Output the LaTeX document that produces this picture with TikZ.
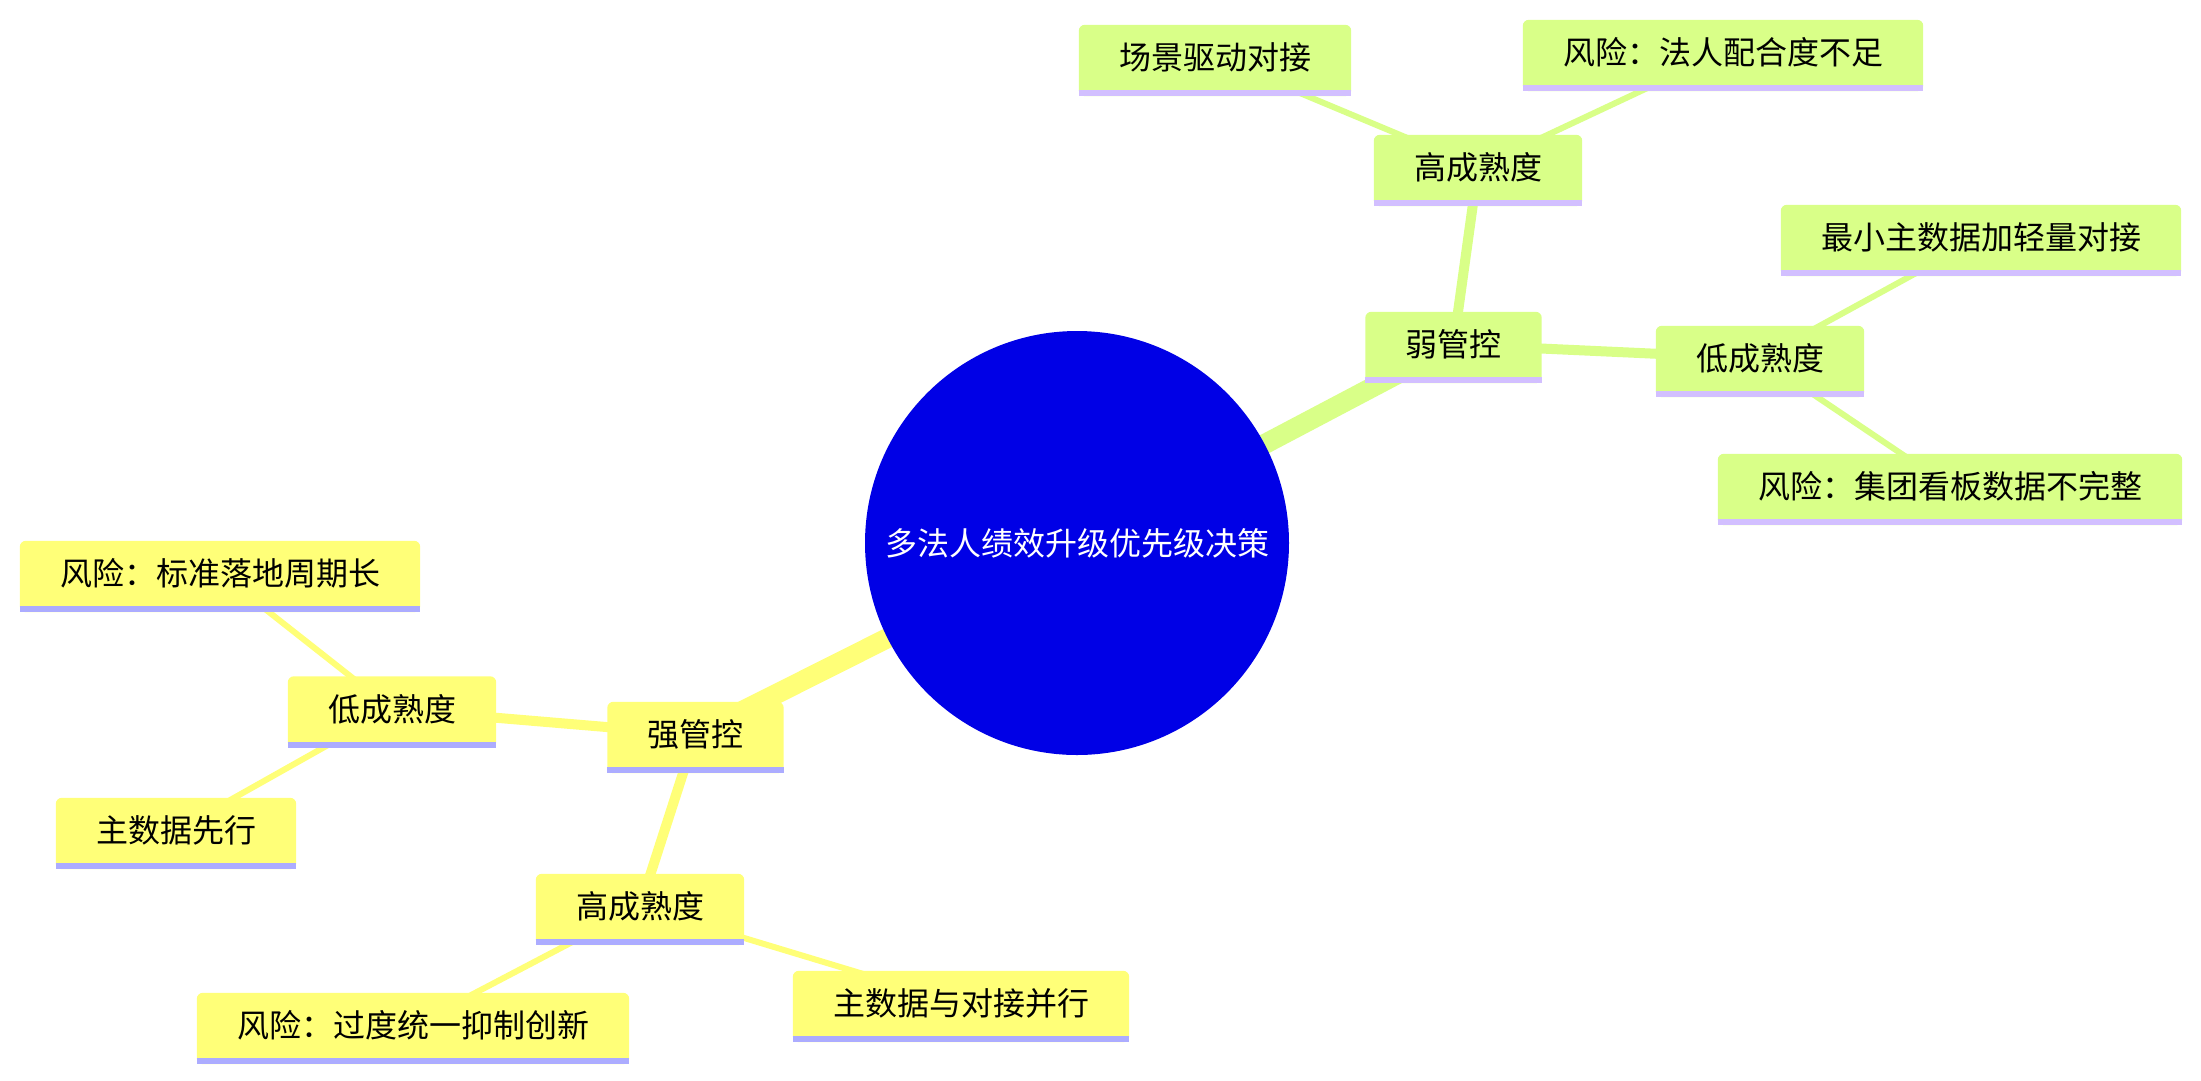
\documentclass[tikz,border=0pt]{standalone}
\usepackage{fontspec}
\newfontfamily\cjk{Noto Sans CJK SC}
\usetikzlibrary{backgrounds}
\pgfdeclarelayer{bottom}
\pgfsetlayers{bottom,background,main}
\definecolor{gfill}{HTML}{D9FF88}
\definecolor{gline}{HTML}{D2BFFF}
\definecolor{yfill}{HTML}{FFFF78}
\definecolor{yline}{HTML}{ACACFF}
\definecolor{rootblue}{HTML}{0000E6}
\begin{document}
\begin{tikzpicture}[x=1pt,y=-1pt,
  mmbox/.style={rectangle, minimum height=65pt, inner xsep=40pt, inner ysep=0pt,
    text height=28pt, text depth=4pt, font=\cjk\fontsize{32pt}{38pt}\selectfont, text=black},
  rootnode/.style={circle, fill=rootblue, minimum size=424pt, inner sep=0pt,
    text=white, font=\cjk\fontsize{32pt}{38pt}\selectfont},
  ezero/.style={line width=20pt},
  eone/.style={line width=10pt},
  etwo/.style={line width=6pt}
]
\begin{pgfonlayer}{bottom}
\fill[white] (0,0) rectangle (2201,1080);
\end{pgfonlayer}
\useasboundingbox (0,0) rectangle (2201,1080);

% root
\node[rootnode] (root) at (1077,543) {多法人绩效升级优先级决策};

% weak control branch
\node[mmbox] (wk)   at (1453.5,344.5) {弱管控};
\node[mmbox] (wkh)  at (1478,167.5)   {高成熟度};
\node[mmbox] (wkha) at (1215,57.5)    {场景驱动对接};
\node[mmbox] (wkhb) at (1723,52.5)    {风险：法人配合度不足};
\node[mmbox] (wkl)  at (1760,358.5)   {低成熟度};
\node[mmbox] (wkla) at (1981,237.5)   {最小主数据加轻量对接};
\node[mmbox] (wklb) at (1950,486.5)   {风险：集团看板数据不完整};

% strong control branch
\node[mmbox] (st)   at (695.5,734.5)  {强管控};
\node[mmbox] (stl)  at (392,709)      {低成熟度};
\node[mmbox] (stla) at (220,573.5)    {风险：标准落地周期长};
\node[mmbox] (stlb) at (176,830.5)    {主数据先行};
\node[mmbox] (sth)  at (640,906.5)    {高成熟度};
\node[mmbox] (stha) at (413,1025.5)   {风险：过度统一抑制创新};
\node[mmbox] (sthb) at (961,1003.5)   {主数据与对接并行};

\begin{pgfonlayer}{background}
  % connectors
  \draw[gfill,ezero] (root.center) -- (wk.center);
  \draw[gfill,eone]  (wk.center) -- (wkh.center);
  \draw[gfill,eone]  (wk.center) -- (wkl.center);
  \draw[gfill,etwo]  (wkh.center) -- (wkha.center);
  \draw[gfill,etwo]  (wkh.center) -- (wkhb.center);
  \draw[gfill,etwo]  (wkl.center) -- (wkla.center);
  \draw[gfill,etwo]  (wkl.center) -- (wklb.center);
  \draw[yfill,ezero] (root.center) -- (st.center);
  \draw[yfill,eone]  (st.center) -- (stl.center);
  \draw[yfill,eone]  (st.center) -- (sth.center);
  \draw[yfill,etwo]  (stl.center) -- (stla.center);
  \draw[yfill,etwo]  (stl.center) -- (stlb.center);
  \draw[yfill,etwo]  (sth.center) -- (stha.center);
  \draw[yfill,etwo]  (sth.center) -- (sthb.center);
  % box fills and underlines
  \foreach \n/\f/\l in {wk/gfill/gline, wkh/gfill/gline, wkha/gfill/gline, wkhb/gfill/gline,
      wkl/gfill/gline, wkla/gfill/gline, wklb/gfill/gline,
      st/yfill/yline, stl/yfill/yline, stla/yfill/yline, stlb/yfill/yline,
      sth/yfill/yline, stha/yfill/yline, sthb/yfill/yline} {
    \fill[\f, rounded corners=6pt] ([yshift=-6pt]\n.south west) rectangle (\n.north east);
    \fill[\l] (\n.south west) rectangle ([yshift=-6pt]\n.south east);
  }
\end{pgfonlayer}
\end{tikzpicture}
\end{document}
